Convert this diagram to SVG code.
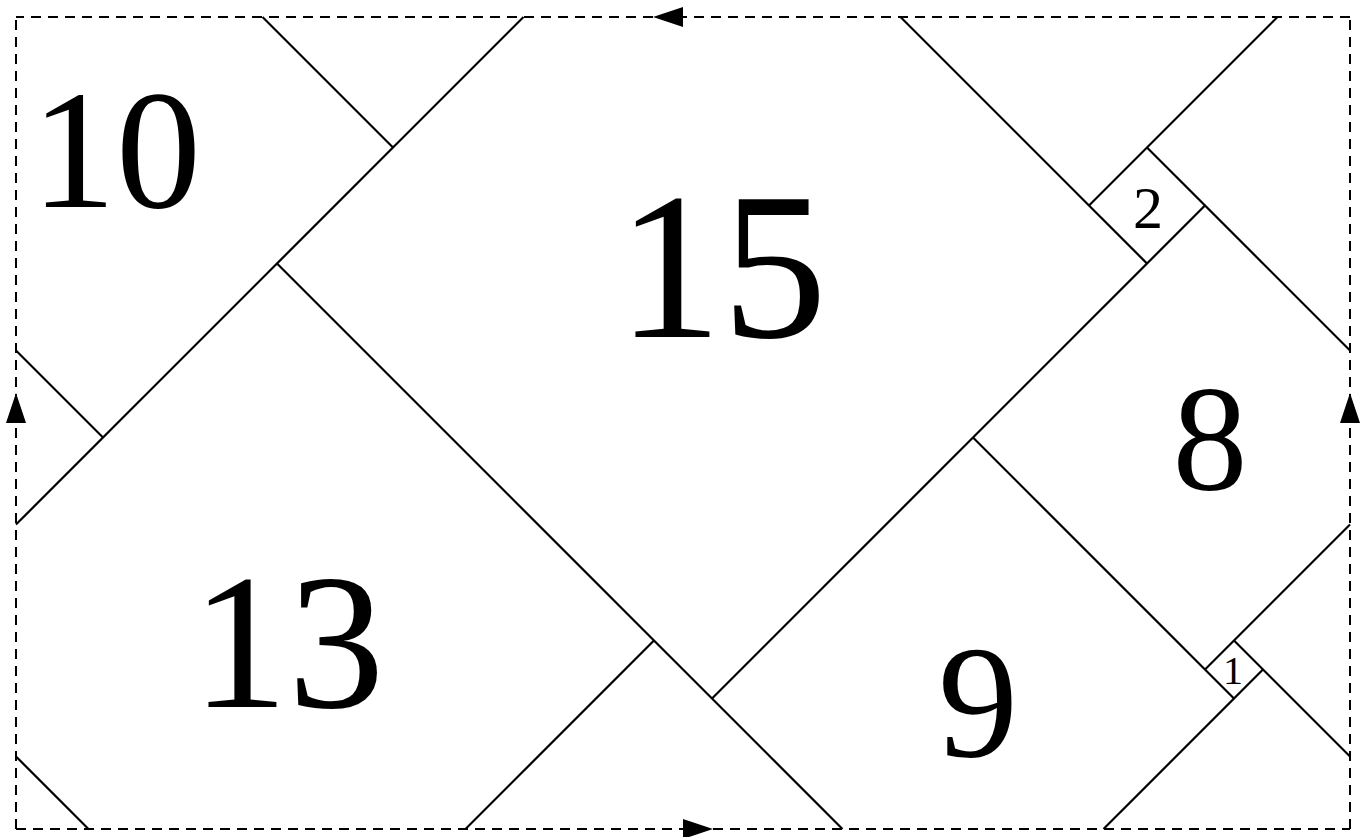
<svg xmlns="http://www.w3.org/2000/svg" width="1361" height="837" viewBox="0 0 1361 837">
<style>
.edge{stroke:#000;stroke-width:2.2;fill:none;stroke-linecap:butt}
.frame{stroke:#000;stroke-width:2;fill:none;stroke-dasharray:10 7}
.lbl{font-family:"Liberation Serif","Times New Roman",serif;fill:#000;text-anchor:middle}
</style>
<defs>
<marker id="arr" markerUnits="userSpaceOnUse" markerWidth="32" markerHeight="22" viewBox="0 -11 32 22" refX="0" refY="0" orient="auto">
<path d="M0,-10 L30,0 L0,10 Z" fill="#000"/>
</marker>
</defs>
<rect width="1361" height="837" fill="#fff"/>
<g id="connectors">
<path class="frame" d="M1350,17 L683,17 L16,17" marker-mid="url(#arr)"/>
<path class="frame" d="M16,829 L683,829 L1350,829" marker-mid="url(#arr)"/>
<path class="frame" d="M16,829 L16,423 L16,17" marker-mid="url(#arr)"/>
<path class="frame" d="M1350,829 L1350,423 L1350,17" marker-mid="url(#arr)"/>
<line class="edge" x1="262.5" y1="17" x2="393" y2="147.5"/>
<line class="edge" x1="523.5" y1="17" x2="16" y2="524.5"/>
<line class="edge" x1="16" y1="350.5" x2="103" y2="437.5"/>
<line class="edge" x1="277" y1="263.5" x2="842.5" y2="829"/>
<line class="edge" x1="16" y1="756.5" x2="88.5" y2="829"/>
<line class="edge" x1="465.5" y1="829" x2="654" y2="640.5"/>
<line class="edge" x1="900.5" y1="17" x2="1147" y2="263.5"/>
<line class="edge" x1="1277.5" y1="17" x2="1089" y2="205.5"/>
<line class="edge" x1="1147" y1="147.5" x2="1350" y2="350.5"/>
<line class="edge" x1="1205" y1="205.5" x2="712" y2="698.5"/>
<line class="edge" x1="973" y1="437.5" x2="1234" y2="698.5"/>
<line class="edge" x1="1234" y1="640.5" x2="1350" y2="756.5"/>
<line class="edge" x1="1350" y1="524.5" x2="1205" y2="669.5"/>
<line class="edge" x1="1263" y1="669.5" x2="1103.5" y2="829"/>
</g>
<g id="sq10"><text class="lbl" x="116" y="207" font-size="170">10</text></g>
<g id="sq15"><text class="lbl" x="722" y="337" font-size="210">15</text></g>
<g id="sq13"><text class="lbl" x="288" y="707" font-size="193">13</text></g>
<g id="sq8"><text class="lbl" x="1210" y="490" font-size="150">8</text></g>
<g id="sq9"><text class="lbl" x="978" y="756" font-size="160">9</text></g>
<g id="sq2"><text class="lbl" x="1148" y="228" font-size="60">2</text></g>
<g id="sq1"><text class="lbl" x="1233" y="684" font-size="40">1</text></g>
</svg>
